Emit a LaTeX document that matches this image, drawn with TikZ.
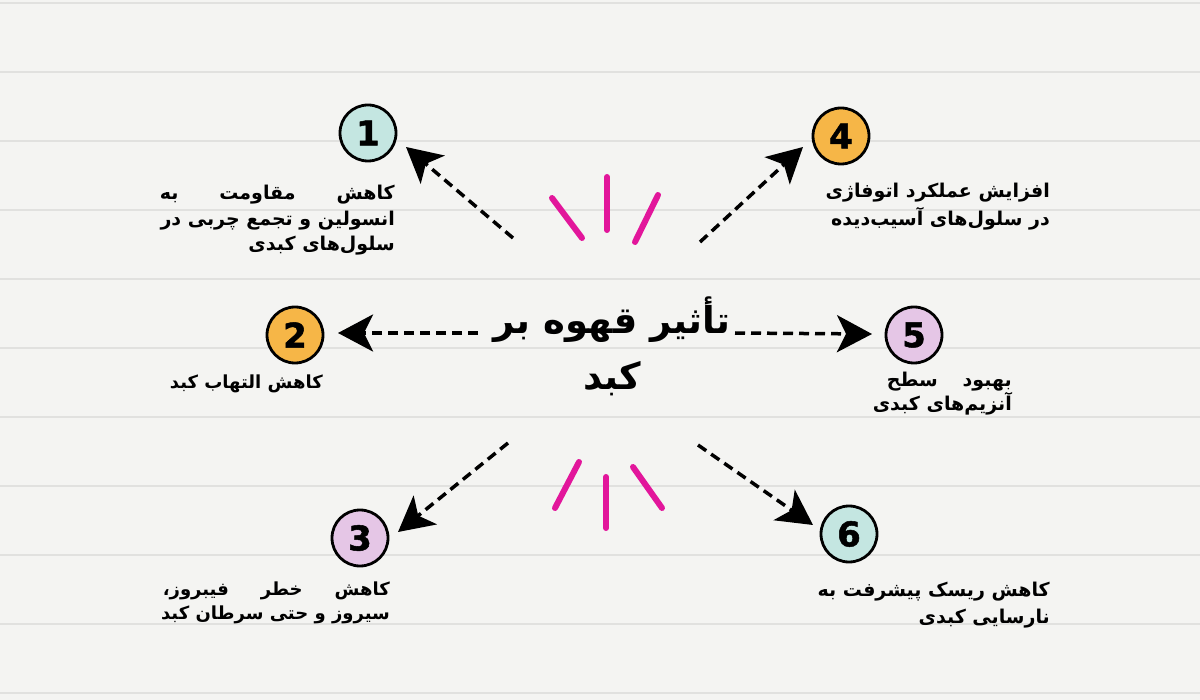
\documentclass[tikz,border=0pt]{standalone}
\usepackage{fontspec}
\usetikzlibrary{arrows.meta,calc,positioning}
\newfontfamily\fafont[Script=Arabic]{DejaVu Sans}
\newfontfamily\numfont[FakeBold=1.5]{DejaVu Sans Bold}
\TeXXeTstate=1
\newcommand\fa[1]{\beginR#1\endR}
\newcommand\faspread[2]{\hbox to #1{\beginR#2\endR}}
\definecolor{paper}{HTML}{F4F4F2}
\definecolor{ruling}{HTML}{E1E1DF}
\definecolor{tealdot}{HTML}{C4E6E1}
\definecolor{orangedot}{HTML}{F6B647}
\definecolor{lilacdot}{HTML}{E5C6E6}
\definecolor{burst}{HTML}{E2169B}
\tikzset{
	num/.style={circle,draw=black,line width=2.8pt,minimum size=56pt,inner sep=0pt,
		font=\numfont\fontsize{34}{34}\selectfont},
	note/.style={inner sep=0pt,align=right,anchor=north east,
		font=\fafont\bfseries\fontsize{19}{26}\selectfont},
	flow/.style={line width=3.5pt,dash pattern=on 10pt off 6pt,
		-{Stealth[length=35pt,width=37pt,inset=9pt]}},
	ray/.style={burst,line width=6pt,line cap=round},
	ruled/.style={ruling,line width=1.5pt}
}

\begin{document}
\begin{tikzpicture}[x=1pt,y=-1pt]
      \fill[paper] (0,0) rectangle (1200,700);
      \useasboundingbox (0,0) rectangle (1200,700);
      \foreach \y in {3,72,...,693}
        \draw[ruled] (0,\y) -- (1200,\y);
      % title
      \node[font=\fafont\bfseries\fontsize{37}{56}\selectfont,align=center,inner sep=0pt] (title) at (612,346)
        {\fa{تأثیر قهوه بر}\\\fa{کبد}};
      % numbered dots
      \node[num,fill=tealdot] (n1) at (368,133) {1};
      \node[num,fill=orangedot] (n2) at (295,335) {2};
      \node[num,fill=lilacdot] (n3) at (360,538) {3};
      \node[num,fill=orangedot] (n4) at (841,136) {4};
      \node[num,fill=lilacdot] (n5) at (914,335) {5};
      \node[num,fill=tealdot] (n6) at (849,534) {6};
      % notes
      \node[note,font=\fafont\bfseries\fontsize{19}{25.5}\selectfont] (t1) at (395,185)
        {\faspread{235pt}{کاهش\hfill مقاومت\hfill به}\\\fa{انسولین و تجمع چربی در}\\\fa{سلول‌های کبدی}};
      \node[note,font=\fafont\bfseries\fontsize{18}{26}\selectfont] (t2) at (323,375) {\fa{کاهش التهاب کبد}};
      \node[note,font=\fafont\bfseries\fontsize{18}{24}\selectfont] (t3) at (390,582)
        {\faspread{227pt}{کاهش\hfill خطر\hfill فیبروز،}\\\fa{سیروز و حتی سرطان کبد}};
      \node[note,font=\fafont\bfseries\fontsize{19}{28}\selectfont] (t4) at (1050,183)
        {\fa{افزایش عملکرد اتوفاژی}\\\fa{در سلول‌های آسیب‌دیده}};
      \node[note,font=\fafont\bfseries\fontsize{19}{21}\selectfont] (t5) at (1012,372)
        {\faspread{125pt}{بهبود\hfill سطح}\\\fa{آنزیم‌های کبدی}};
      \node[note,font=\fafont\bfseries\fontsize{19}{27}\selectfont] (t6) at (1050,582)
        {\fa{کاهش ریسک پیشرفت به}\\\fa{نارسایی کبدی}};
      % arrow ends
      \coordinate (s1) at ($(title)+(-99,-108)$);
      \coordinate (s2) at ($(title)+(-134,-13)$);
      \coordinate (s3) at ($(title)+(-104,97)$);
      \coordinate (s4) at ($(title)+(88,-104)$);
      \coordinate (s5) at ($(title)+(123,-13)$);
      \coordinate (s6) at ($(title)+(86,99)$);
      \coordinate (e1) at ($(n1)+(38,14)$);
      \coordinate (e2) at ($(n2)+(43,-2)$);
      \coordinate (e3) at ($(n3)+(38,-6)$);
      \coordinate (e4) at ($(n4)+(-38,11)$);
      \coordinate (e5) at ($(n5)+(-42,-1)$);
      \coordinate (e6) at ($(n6)+(-36,-9)$);
      \foreach \i in {1,...,6}
        \draw[flow] (s\i) -- (e\i);
      % bursts
      \draw[ray] (552,198) -- (582,238);
      \draw[ray] (607,177) -- (607,230);
      \draw[ray] (658,195) -- (635,242);
      \draw[ray] (579,462) -- (555,508);
      \draw[ray] (606,477) -- (606,528);
      \draw[ray] (633,467) -- (662,508);
\end{tikzpicture}
\end{document}
